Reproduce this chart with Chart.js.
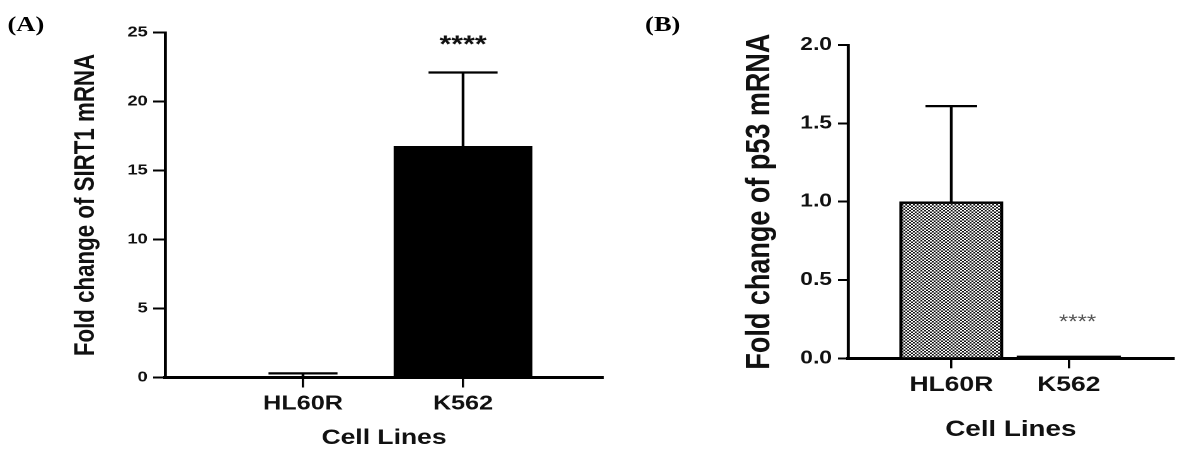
<!DOCTYPE html>
<html>
<head>
<meta charset="utf-8">
<script src="https://cdn.jsdelivr.net/npm/chart.js@4.4.1/dist/chart.umd.min.js"></script>
<style>
  html, body { margin: 0; padding: 0; background: #fff; overflow: hidden; }
  /* the source figure is stretched sideways, so the whole page is too */
  #page { position: absolute; left: 0; top: 0; width: 941px; height: 457px; transform: scaleX(1.26); transform-origin: 0 0; }
  canvas { position: absolute; top: 0; }
  #chartA { left: 0; }
  #chartB { left: 492px; }
  .panel { position: absolute; top: 12px; line-height: 1; font: bold 21px "Liberation Serif", "Times New Roman", serif; color: #000; }
</style>
</head>
<body>
<div id="page">
  <div class="panel" style="left:6px">(A)</div>
  <div class="panel" style="left:512px">(B)</div>
  <canvas id="chartA" width="492" height="457" style="width:492px;height:457px"></canvas>
  <canvas id="chartB" width="449" height="457" style="width:449px;height:457px"></canvas>
</div>
<script>
var cellLines = ['HL60R', 'K562']

var sirt1Fold = [0.08, 16.75]
var sirt1Err = [0.22, 5.35]
var sirt1Sig = ['', '****']
var sirt1Ticks = [0, 5, 10, 15, 20, 25]

var p53Fold = [1.0, 0.015]
var p53Err = [0.61, 0]
var p53Sig = ['', '****']
var p53Ticks = [0, 0.5, 1, 1.5, 2]

var font = '"Liberation Sans", Arial, Helvetica, sans-serif'

function checkerPattern() {
  var tile = document.createElement('canvas')
  tile.width = 6
  tile.height = 6
  var c = tile.getContext('2d')
  c.fillStyle = '#fff'
  c.fillRect(0, 0, 6, 6)
  c.fillStyle = '#111'
  c.fillRect(3, 0, 3, 3)
  c.fillRect(0, 3, 3, 3)
  var p = c.createPattern(tile, 'repeat')
  p.setTransform(new DOMMatrix().scale(0.5))
  return p
}

// error bars (upper side only) and significance stars
var markPlugin = {
  id: 'marks',
  afterDatasetsDraw(chart, args, opts) {
    var ctx = chart.ctx
    var yScale = chart.scales.y
    var meta = chart.getDatasetMeta(0)
    var values = chart.data.datasets[0].data
    ctx.save()
    ctx.strokeStyle = '#000'
    ctx.lineWidth = opts.lineWidth
    meta.data.forEach(function (bar, i) {
      var err = opts.errors[i]
      var top = yScale.getPixelForValue(values[i].y + err)
      if (err > 0) {
        var half = bar.width / 4
        ctx.beginPath()
        ctx.moveTo(bar.x, bar.y)
        ctx.lineTo(bar.x, top)
        ctx.moveTo(bar.x - half, top)
        ctx.lineTo(bar.x + half, top)
        ctx.stroke()
      }
      if (opts.stars[i]) {
        ctx.fillStyle = opts.starColor
        ctx.font = opts.starFont
        ctx.textAlign = 'center'
        ctx.textBaseline = 'middle'
        ctx.fillText(opts.stars[i], bar.x + opts.starShift, top - opts.starGap)
      }
    })
    ctx.restore()
  }
}

function makeChart(id, cfg) {
  return new Chart(document.getElementById(id), {
    type: 'bar',
    data: {
      datasets: [{
        data: cfg.values.map(function (v, i) { return { x: i, y: v } }),
        backgroundColor: cfg.fills,
        borderColor: '#000',
        borderWidth: cfg.borderWidths,
        barThickness: cfg.barWidth
      }]
    },
    plugins: [markPlugin],
    options: {
      responsive: false,
      devicePixelRatio: 2,
      animation: false,
      layout: { padding: { left: 0, top: cfg.top, right: cfg.right, bottom: 0 } },
      plugins: {
        legend: { display: false },
        tooltip: { enabled: false },
        marks: cfg.marks
      },
      scales: {
        x: {
          type: 'linear',
          offset: false,
          bounds: 'data',
          min: cfg.xMin,
          max: cfg.xMax,
          afterBuildTicks: function (scale) {
            scale.ticks = cellLines.map(function (c, i) { return { value: i } })
          },
          afterFit: function (scale) { scale.height = cfg.xHeight },
          ticks: {
            autoSkip: false,
            maxRotation: 0,
            padding: cfg.xTickPad,
            color: '#111',
            font: { family: font, size: cfg.xTickSize, weight: 'bold' },
            callback: function (v) { return cellLines[v] }
          },
          grid: { offset: false, drawOnChartArea: false, drawTicks: true, tickLength: 10, color: '#000', lineWidth: 1.8 },
          border: { display: true, color: '#000', width: 3 },
          title: {
            display: true,
            text: 'Cell Lines',
            color: '#111',
            font: { family: font, size: cfg.xTitleSize, weight: 'bold' },
            padding: { top: 0, bottom: cfg.xTitlePad }
          }
        },
        y: {
          min: cfg.yTicks[0],
          max: cfg.yTicks[cfg.yTicks.length - 1],
          afterBuildTicks: function (scale) {
            scale.ticks = cfg.yTicks.map(function (v) { return { value: v } })
          },
          afterFit: function (scale) { scale.width = cfg.yWidth },
          ticks: {
            padding: cfg.yTickPad,
            color: '#111',
            font: { family: font, size: cfg.yTickSize, weight: 'bold' },
            callback: cfg.yFormat
          },
          grid: { drawOnChartArea: false, drawTicks: true, tickLength: cfg.yTickLen, color: '#000', lineWidth: 2 },
          border: { display: true, color: '#000', width: 2.4 },
          title: {
            display: true,
            text: cfg.yTitle,
            color: '#111',
            font: { family: font, size: cfg.yTitleSize, weight: 'bold' },
            padding: { top: cfg.yTitlePad, bottom: 0 }
          }
        }
      }
    }
  })
}

makeChart('chartA', {
  values: sirt1Fold,
  fills: ['#000', '#000'],
  borderWidths: [0, 0],
  barWidth: 109.5,
  top: 32.5,
  right: 13.4,
  xMin: -0.862,
  xMax: 1.875,
  xHeight: 79.5,
  xTickPad: 4.5,
  xTickSize: 20,
  xTitleSize: 21,
  xTitlePad: 6.4,
  yTicks: sirt1Ticks,
  yWidth: 131,
  yTickPad: 4.3,
  yTickLen: 9.5,
  yTickSize: 14.5,
  yFormat: function (v) { return v },
  yTitle: 'Fold change of SIRT1 mRNA',
  yTitleSize: 22.3,
  yTitlePad: 55,
  marks: {
    errors: sirt1Err,
    stars: sirt1Sig,
    lineWidth: 2.2,
    starFont: 'bold 24px ' + font,
    starColor: '#111',
    starGap: 27,
    starShift: 0
  }
})

makeChart('chartB', {
  values: p53Fold,
  fills: [checkerPattern(), '#000'],
  borderWidths: [2.6, 0],
  barWidth: 82,
  top: 45,
  right: 9.5,
  xMin: -0.879,
  xMax: 1.893,
  xHeight: 98.7,
  xTickPad: 4.1,
  xTickSize: 21,
  xTitleSize: 22,
  xTitlePad: 13.8,
  yTicks: p53Ticks,
  yWidth: 181,
  yTickPad: 4.8,
  yTickLen: 8,
  yTickSize: 18,
  yFormat: function (v) { return v.toFixed(1) },
  yTitle: 'Fold change of p53 mRNA',
  yTitleSize: 27,
  yTitlePad: 95,
  marks: {
    errors: p53Err,
    stars: p53Sig,
    lineWidth: 2.2,
    starFont: '19px ' + font,
    starColor: '#555',
    starGap: 33,
    starShift: 7
  }
})
</script>
</body>
</html>
